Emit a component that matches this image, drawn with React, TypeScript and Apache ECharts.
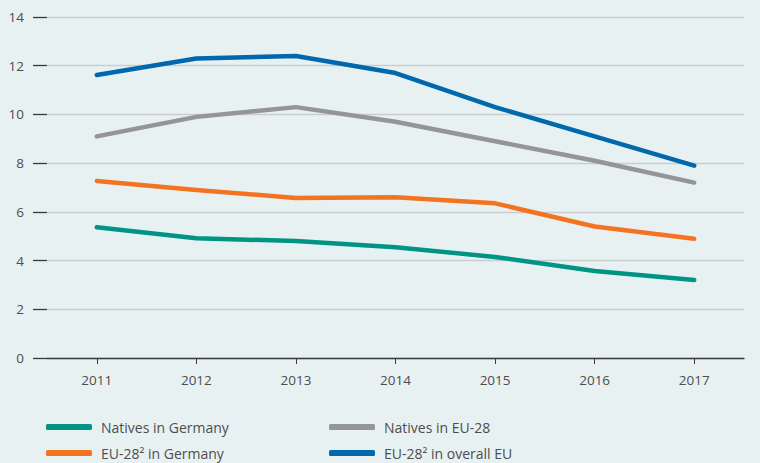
import React, { useEffect, useRef } from "react";
import * as echarts from "echarts";

const years = ["2011", "2012", "2013", "2014", "2015", "2016", "2017"];
const nativesGermany = [5.37, 4.92, 4.8, 4.55, 4.15, 3.57, 3.2];
const nativesEU28 = [9.1, 9.9, 10.3, 9.7, 8.9, 8.1, 7.2];
const eu28Germany = [7.27, 6.9, 6.57, 6.6, 6.35, 5.4, 4.9];
const eu28OverallEU = [11.62, 12.3, 12.4, 11.7, 10.3, 9.1, 7.9];

const seriesNames = [
  "Natives in Germany",
  "Natives in EU-28",
  "EU-28² in Germany",
  "EU-28² in overall EU",
];
const colors = ["#009485", "#939598", "#f47321", "#0068ad"];
const seriesData = [nativesGermany, nativesEU28, eu28Germany, eu28OverallEU];

const FONT = "'Open Sans', 'Noto Sans', sans-serif";

export default function App() {
  const ref = useRef<HTMLDivElement>(null);
  useEffect(() => {
    if (!ref.current) return;
    const chart = echarts.init(ref.current, undefined, { renderer: "svg" });
    const legendPos = [
      { left: 46, top: 417 },
      { left: 329, top: 417 },
      { left: 46, top: 443 },
      { left: 329, top: 443 },
    ];
    chart.setOption({
      animation: false,
      backgroundColor: "#e8f1f2",
      textStyle: { fontFamily: FONT },
      grid: { left: 47, right: 16, top: 17, bottom: 105, containLabel: false },
      legend: seriesNames.map((n, i) => ({
        data: [n],
        left: legendPos[i].left,
        top: legendPos[i].top,
        icon: "roundRect",
        itemWidth: 46,
        itemHeight: 6,
        itemGap: 0,
        padding: 0,
        selectedMode: false,
        textStyle: {
          color: "#4d4d4d",
          fontSize: 14,
          lineHeight: 20,
          fontFamily: FONT,
          padding: [0, 0, 0, 4],
        },
      })),
      xAxis: {
        type: "category",
        data: years,
        boundaryGap: true,
        axisLine: { show: true, lineStyle: { color: "#3a3a3a", width: 1.3 } },
        axisTick: { show: true, alignWithLabel: true, length: 6, lineStyle: { color: "#3a3a3a" } },
        axisLabel: { color: "#4d4d4d", fontSize: 13.5, margin: 15, fontFamily: FONT },
        splitLine: { show: false },
      },
      yAxis: {
        type: "value",
        min: 0,
        max: 14,
        interval: 2,
        axisLine: { show: false },
        axisTick: { show: true, length: 14, lineStyle: { color: "#3a3a3a", width: 1.3 } },
        axisLabel: { color: "#4d4d4d", fontSize: 13.5, margin: 23, fontFamily: FONT },
        splitLine: { show: true, lineStyle: { color: "#c9cdcd", width: 1.3 } },
      },
      series: seriesNames.map((n, i) => ({
        name: n,
        type: "line",
        data: seriesData[i],
        symbol: "none",
        color: colors[i],
        lineStyle: { color: colors[i], width: 4.5, cap: "round", join: "round" },
        z: 3,
      })),
    });
    return () => chart.dispose();
  }, []);
  return (
    <div
      ref={ref}
      style={{ position: "fixed", left: 0, top: 0, width: 760, height: 463 }}
    />
  );
}
